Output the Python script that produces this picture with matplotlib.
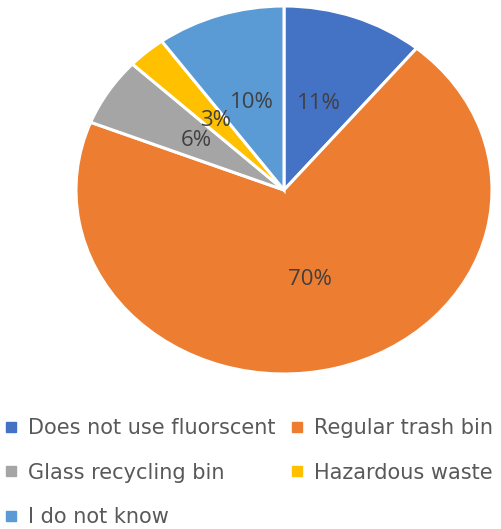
import matplotlib
matplotlib.use("Agg")
import matplotlib.pyplot as plt
from matplotlib.lines import Line2D

categories = ["Does not use fluorscent", "Regular trash bin", "Glass recycling bin",
              "Hazardous waste", "I do not know"]
values = [11, 70, 6, 3, 10]
colors = ["#4472C4", "#ED7D31", "#A5A5A5", "#FFC000", "#5B9BD5"]

plt.rcParams['font.family'] = ['Open Sans', 'DejaVu Sans']

fig = plt.figure(figsize=(5.01, 5.29), dpi=100)
ax = fig.add_axes([76/501, (529-374)/529, 416/501, 368/529])
wedges, texts, autotexts = ax.pie(
    values, colors=colors, startangle=90, counterclock=False,
    autopct=lambda p: f"{p:.0f}%", pctdistance=0.5, radius=1,
    wedgeprops=dict(edgecolor="white", linewidth=2.2),
    textprops=dict(color="#404040", fontsize=16))
ax.set_aspect('auto')
ax.set_xlim(-1, 1)
ax.set_ylim(-1, 1)

handles = [Line2D([], [], marker='s', linestyle='none', markersize=6.5,
                  markerfacecolor=c, markeredgecolor=c) for c in colors]
order = [0, 2, 4, 1, 3]
leg = fig.legend([handles[i] for i in order], [categories[i] for i in order],
                 ncol=2, loc='upper left', bbox_to_anchor=(0.0, 1 - 414/529),
                 frameon=False, prop=dict(family='DejaVu Sans', size=15),
                 labelcolor="#595959",
                 handlelength=0.7, handletextpad=0.45, columnspacing=0.68,
                 labelspacing=1.18, borderaxespad=0, borderpad=0.2)

fig.savefig("out.png", dpi=100)
